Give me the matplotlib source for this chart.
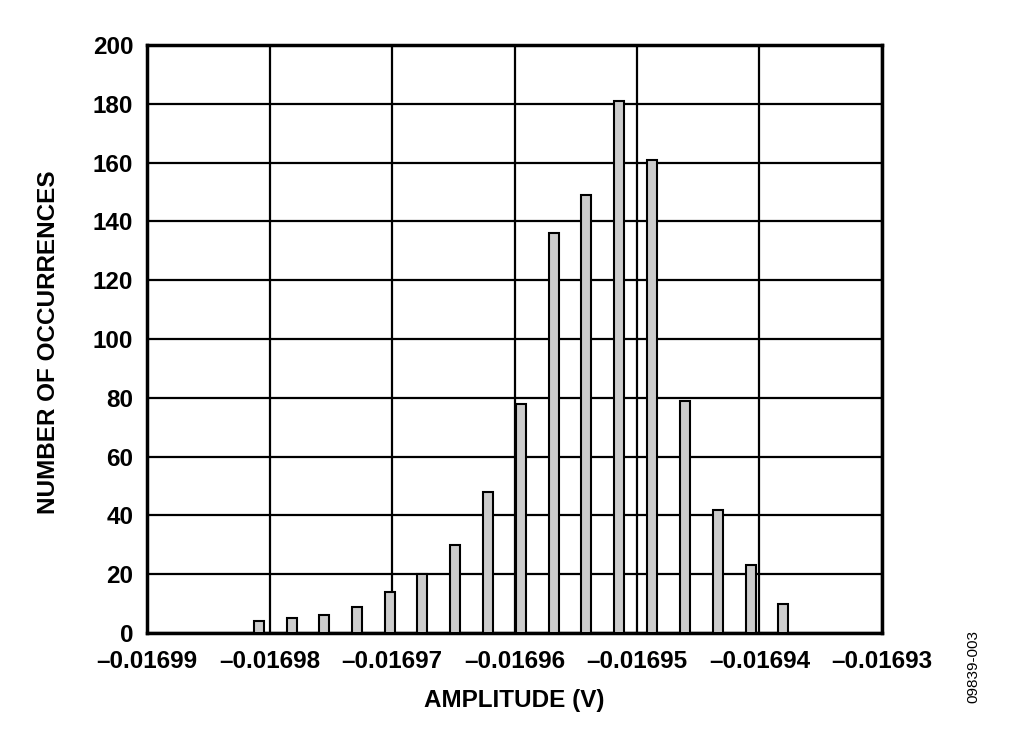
import matplotlib
matplotlib.use('Agg')
import matplotlib.pyplot as plt

plt.rcParams['font.family'] = ['Liberation Sans', 'DejaVu Sans']

# bin centres (V) and counts
centers = [-0.01698088, -0.01697819, -0.01697555, -0.01697288, -0.01697019,
           -0.01696753, -0.01696483, -0.01696216, -0.01695949, -0.01695680,
           -0.01695414, -0.01695147, -0.01694880, -0.01694608, -0.01694341,
           -0.01694072, -0.01693806]
counts = [4, 5, 6, 9, 14, 20, 30, 48, 78, 136, 149, 181, 161, 79, 42, 23, 10]

xticks = [-0.01699, -0.01698, -0.01697, -0.01696, -0.01695, -0.01694, -0.01693]
xticklabels = ['\u20130.01699', '\u20130.01698', '\u20130.01697', '\u20130.01696',
               '\u20130.01695', '\u20130.01694', '\u20130.01693']
yticks = list(range(0, 201, 20))

fig = plt.figure(figsize=(10.24, 7.45), dpi=100)
ax = fig.add_axes([0.1436, 0.1503, 0.7177, 0.7893])

ax.bar(centers, counts, width=0.0000008, color='#cccccc', edgecolor='black',
       linewidth=1.5, zorder=3)

ax.set_xlim(-0.01699, -0.01693)
ax.set_ylim(0, 200)
ax.set_xticks(xticks)
ax.set_xticklabels(xticklabels)
ax.set_yticks(yticks)
ax.tick_params(length=0, labelsize=17.5)
ax.tick_params(axis='y', pad=10)
ax.tick_params(axis='x', pad=12.5)
for lab in ax.get_xticklabels() + ax.get_yticklabels():
    lab.set_fontweight('bold')

ax.grid(True, color='black', linewidth=1.6)
ax.set_axisbelow(True)
for s in ax.spines.values():
    s.set_linewidth(2.5)

fig.text(0.5024, 0.0604, 'AMPLITUDE (V)', fontsize=17.5, fontweight='bold',
         ha='center', va='center')
fig.text(0.0469, 0.541, 'NUMBER OF OCCURRENCES', fontsize=17.5, fontweight='bold',
         rotation=90, ha='center', va='center')

fig.text(0.951, 0.106, '09839-003', rotation=90, fontsize=11, ha='center', va='center')

fig.savefig('out.png', dpi=100)
